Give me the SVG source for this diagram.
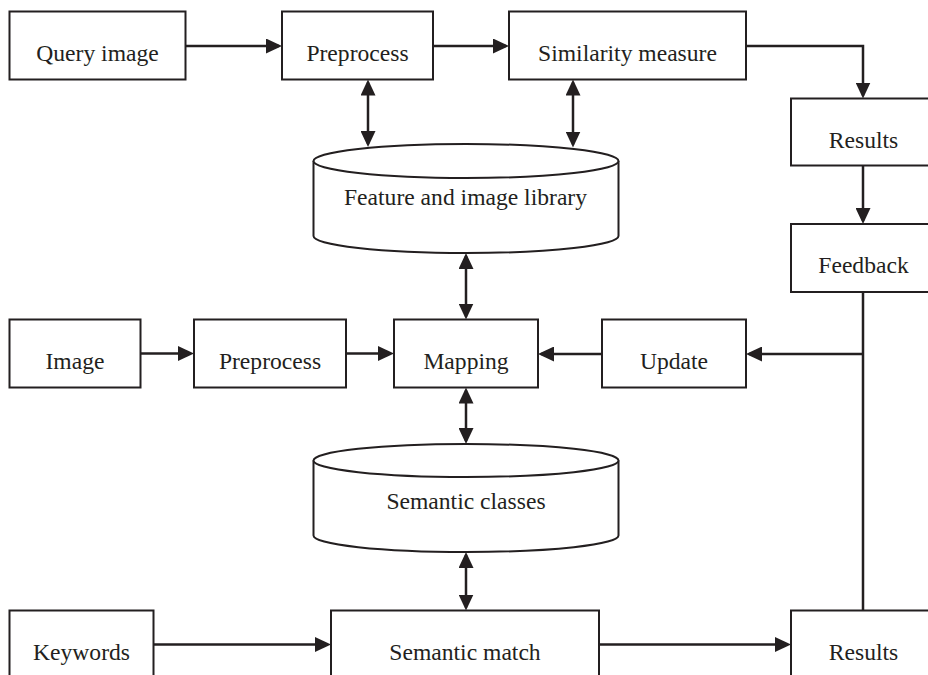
<svg xmlns="http://www.w3.org/2000/svg" width="928" height="675" viewBox="0 0 928 675">
  <style>
    .box { fill: #ffffff; stroke: #231f20; stroke-width: 2; }
    .db { fill: #ffffff; stroke: #231f20; stroke-width: 2; }
    .edge { fill: none; stroke: #231f20; stroke-width: 2.5; }
    .lbl { font-family: "Liberation Serif", "Times New Roman", serif; font-size: 23.6px; fill: #231f20; text-anchor: middle; }
  </style>
  <defs>
    <marker id="arrow" markerUnits="userSpaceOnUse" markerWidth="16" markerHeight="15" refX="13" refY="7.5" orient="auto-start-reverse" viewBox="0 0 16 15">
      <path d="M0,0 L16,7.5 L0,15 Z" fill="#231f20"/>
    </marker>
  </defs>

  <rect width="928" height="675" fill="#ffffff"/>

  <!-- connectors -->
  <g id="connectors">
    <path class="edge" d="M185.5,46 H279" marker-end="url(#arrow)"/>
    <path class="edge" d="M433,46 H506" marker-end="url(#arrow)"/>
    <path class="edge" d="M746,46 H863 V95.5" marker-end="url(#arrow)"/>
    <path class="edge" d="M863,165.5 V221" marker-end="url(#arrow)"/>
    <path class="edge" d="M863,292 V610.5"/>
    <path class="edge" d="M863,354 H749" marker-end="url(#arrow)"/>
    <path class="edge" d="M602,354 H541" marker-end="url(#arrow)"/>
    <path class="edge" d="M140.5,353.5 H191" marker-end="url(#arrow)"/>
    <path class="edge" d="M346,353.5 H391" marker-end="url(#arrow)"/>
    <path class="edge" d="M368,82.5 V144" marker-start="url(#arrow)" marker-end="url(#arrow)"/>
    <path class="edge" d="M573,82.5 V144.5" marker-start="url(#arrow)" marker-end="url(#arrow)"/>
    <path class="edge" d="M466,256 V316.5" marker-start="url(#arrow)" marker-end="url(#arrow)"/>
    <path class="edge" d="M466,390.5 V441" marker-start="url(#arrow)" marker-end="url(#arrow)"/>
    <path class="edge" d="M466,555 V607.5" marker-start="url(#arrow)" marker-end="url(#arrow)"/>
    <path class="edge" d="M153.5,644.5 H328" marker-end="url(#arrow)"/>
    <path class="edge" d="M599,644.5 H788" marker-end="url(#arrow)"/>
  </g>

  <!-- top row -->
  <g id="query-image">
    <rect class="box" x="9.5" y="11.5" width="176" height="68"/>
    <text class="lbl" x="97.5" y="61">Query image</text>
  </g>
  <g id="preprocess-top">
    <rect class="box" x="282" y="11.5" width="151" height="68"/>
    <text class="lbl" x="357.5" y="61">Preprocess</text>
  </g>
  <g id="similarity-measure">
    <rect class="box" x="509" y="11.5" width="237" height="68"/>
    <text class="lbl" x="627.5" y="61">Similarity measure</text>
  </g>
  <g id="results-top">
    <rect class="box" x="791" y="98.5" width="150" height="67"/>
    <text class="lbl" x="863.5" y="147.5">Results</text>
  </g>
  <g id="feedback">
    <rect class="box" x="791" y="224" width="150" height="68"/>
    <text class="lbl" x="863.5" y="273">Feedback</text>
  </g>

  <!-- feature and image library -->
  <g id="feature-library">
    <path class="db" d="M313.5,161 V236 A152.5,17 0 0 0 618.5,236 V161"/>
    <ellipse class="db" cx="466" cy="161" rx="152.5" ry="17"/>
    <text class="lbl" x="465.5" y="205">Feature and image library</text>
  </g>

  <!-- middle row -->
  <g id="image">
    <rect class="box" x="9.5" y="319.5" width="131" height="68"/>
    <text class="lbl" x="75" y="368.5">Image</text>
  </g>
  <g id="preprocess-mid">
    <rect class="box" x="194" y="319.5" width="152" height="68"/>
    <text class="lbl" x="270" y="368.5">Preprocess</text>
  </g>
  <g id="mapping">
    <rect class="box" x="394" y="319.5" width="144" height="68"/>
    <text class="lbl" x="466" y="368.5">Mapping</text>
  </g>
  <g id="update">
    <rect class="box" x="602" y="319.5" width="144" height="68"/>
    <text class="lbl" x="674" y="368.5">Update</text>
  </g>

  <!-- semantic classes -->
  <g id="semantic-classes">
    <path class="db" d="M313.5,460.5 V535.5 A152.5,16.5 0 0 0 618.5,535.5 V460.5"/>
    <ellipse class="db" cx="466" cy="460.5" rx="152.5" ry="16.5"/>
    <text class="lbl" x="466" y="508.5">Semantic classes</text>
  </g>

  <!-- bottom row -->
  <g id="keywords">
    <rect class="box" x="9.5" y="610.5" width="144" height="80"/>
    <text class="lbl" x="81.5" y="660">Keywords</text>
  </g>
  <g id="semantic-match">
    <rect class="box" x="331" y="610.5" width="268" height="80"/>
    <text class="lbl" x="465" y="660">Semantic match</text>
  </g>
  <g id="results-bottom">
    <rect class="box" x="791" y="610.5" width="150" height="80"/>
    <text class="lbl" x="863.5" y="659.5">Results</text>
  </g>
</svg>
